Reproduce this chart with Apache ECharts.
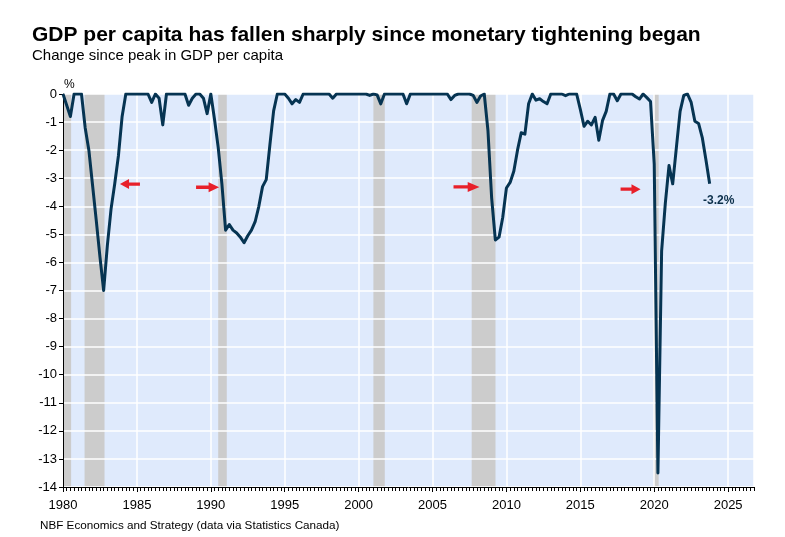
<!DOCTYPE html>
<html>
<head>
<meta charset="utf-8">
<script src="https://cdn.jsdelivr.net/npm/echarts@6/dist/echarts.min.js"></script>
<style>
html,body{margin:0;padding:0;background:#fff;}
#c{width:785px;height:537px;}
</style>
</head>
<body>
<div id="c"></div>
<script>
// ---- Data (quarterly, % change since previous peak in real GDP per capita) ----
const startYear = 1980;          // first quarter = 1980Q1
const v1980s = [0, -0.4, -0.8, 0,   0, 0, -1.2, -2.0,   -3.25, -4.5, -5.8, -7.0,   -5.4, -4.1, -3.2, -2.2,
                -0.8, 0, 0, 0,      0, 0, 0, 0,          -0.3, 0, -0.15, -1.1,      0, 0, 0, 0,
                0, 0, -0.4, -0.15,  0, 0, -0.15, -0.7];
const v1990s = [0, -0.9, -1.9, -3.2,   -4.85, -4.65, -4.85, -4.95,   -5.1, -5.3, -5.05, -4.85,   -4.55, -4.0, -3.3, -3.05,
                -1.8, -0.6, 0, 0,      0, -0.15, -0.35, -0.2,        -0.3, 0, 0, 0,               0, 0, 0, 0,
                0, -0.15, 0, 0,        0, 0, 0, 0];
const v2000s = [0, 0, 0, -0.05,   0, -0.03, -0.35, 0,   0, 0, 0, 0,   0, -0.35, 0, 0,
                0, 0, 0, 0,       0, 0, 0, 0,           0, -0.2, -0.05, 0,   0, 0, 0, -0.05,
                -0.3, -0.07, 0, -1.3,   -3.7, -5.2, -5.1, -4.4];
const v2010s = [-3.35, -3.15, -2.75, -2.0,   -1.38, -1.43, -0.35, 0,   -0.22, -0.17, -0.27, -0.35,   0, 0, 0, 0,
                -0.06, 0, 0, 0,              -0.55, -1.15, -0.97, -1.1, -0.83, -1.65, -0.95, -0.62,  0, 0, -0.24, 0,
                0, 0, 0, -0.1,               -0.18, 0, -0.13, -0.27];
const v2020s = [-2.5, -13.5, -5.6, -3.9,   -2.55, -3.2, -1.9, -0.62,   -0.05, 0, -0.3, -0.97,   -1.05, -1.55, -2.35, -3.2];

// Recessions (shaded), in decimal years
const recessionStarts = [1980.0, 1981.46, 1990.5, 2001.0, 2007.65, 2019.96];
const recessionEnds   = [1980.55, 1982.81, 1991.08, 2001.77, 2009.26, 2020.3];

// Red arrows marking start of monetary tightening-related declines: [year, value, direction]
const arrowYears  = [1984.53, 1989.78, 2007.3, 2018.4];
const arrowValues = [-3.21, -3.32, -3.31, -3.39];
const arrowDirs   = ['left', 'right', 'right', 'right'];

// Axis settings
const xMin = 1980, xMax = 2026.75, xStep = 5;
const yMin = -14, yMax = 0, yStep = 1;

// ---- Build ----
const values = [].concat(v1980s, v1990s, v2000s, v2010s, v2020s);
const lineData = values.map((v, i) => [startYear + i / 4, v]);
const last = lineData[lineData.length - 1];

const arrowLen = [20, 23, 26, 20];
const arrowPath = 'path://M0,3.3 L12,3.3 L12,0 L22,5 L12,10 L12,6.7 L0,6.7 Z';

const FONT = '"Liberation Sans", Arial, Helvetica, sans-serif';
const chart = echarts.init(document.getElementById('c'), null, {renderer: 'canvas'});

const option = {
  animation: false,
  textStyle: {fontFamily: FONT},
  title: [
    {text: 'GDP per capita has fallen sharply since monetary tightening began', left: 27, top: 20,
     textStyle: {fontFamily: FONT, fontSize: 21, fontWeight: 'bold', color: '#000'}},
    {text: 'Change since peak in GDP per capita', left: 27, top: 43,
     textStyle: {fontFamily: FONT, fontSize: 15, fontWeight: 'normal', color: '#000'}},
    {text: 'NBF Economics and Strategy (data via Statistics Canada)', left: 35, top: 515,
     textStyle: {fontFamily: FONT, fontSize: 11.7, fontWeight: 'normal', color: '#000'}}
  ],
  grid: {left: 63, top: 94, right: 31, bottom: 50, show: true, backgroundColor: '#dfeafc', borderWidth: 0, z: 0},
  xAxis: [
    {type: 'value', position: 'bottom', min: xMin, max: xMax, interval: xStep, z: 2,
     axisLine: {show: true, onZero: false, lineStyle: {color: '#000', width: 1}},
     axisTick: {show: true, length: 5, lineStyle: {color: '#000'}},
     axisLabel: {fontFamily: FONT, fontSize: 13, color: '#000', margin: 12, showMaxLabel: false,
                 formatter: v => (Math.abs(v % 5) < 1e-6 ? String(Math.round(v)) : '')},
     splitLine: {show: true, lineStyle: {color: '#fff', width: 1.5}}},
    {type: 'value', position: 'bottom', min: xMin, max: xMax, interval: 0.25, z: 2,
     axisLine: {show: false, onZero: false},
     axisTick: {show: true, length: 4, lineStyle: {color: '#000'}},
     axisLabel: {show: false},
     splitLine: {show: false}}
  ],
  yAxis: {
    type: 'value', min: yMin, max: yMax, interval: yStep, z: 2,
    name: '%', nameLocation: 'end', nameGap: 3,
    nameTextStyle: {fontFamily: FONT, fontSize: 12, color: '#000', align: 'left', padding: [0, 0, 0, 1]},
    axisLine: {show: true, lineStyle: {color: '#000', width: 1}},
    axisTick: {show: true, length: 4, lineStyle: {color: '#000'}},
    axisLabel: {fontFamily: FONT, fontSize: 13, color: '#000', margin: 6},
    splitLine: {show: true, lineStyle: {color: '#fff', width: 1.5}}
  },
  series: [
    {
      type: 'line', data: [], z: 1, silent: true, xAxisIndex: 0,
      markArea: {
        silent: true,
        itemStyle: {color: '#cccccc'},
        data: recessionStarts.map((s, i) => [{xAxis: s}, {xAxis: recessionEnds[i]}])
      }
    },
    {
      type: 'line', data: lineData, z: 3, xAxisIndex: 0,
      symbol: 'none', smooth: false,
      lineStyle: {color: '#063452', width: 3, join: 'round'},
      markPoint: {
        silent: true,
        animation: false,
        data: arrowYears.map((x, i) => ({
          coord: [x, arrowValues[i]],
          symbol: arrowPath,
          symbolSize: [arrowLen[i], 10],
          symbolKeepAspect: false,
          symbolRotate: arrowDirs[i] === 'left' ? 180 : 0,
          itemStyle: {color: '#e8202a'},
          label: {show: false}
        })).concat([{
          coord: last,
          symbol: 'rect', symbolSize: 1,
          itemStyle: {color: 'rgba(0,0,0,0)'},
          label: {show: true, position: 'bottom', distance: 10, offset: [9, 0],
                  formatter: last[1].toFixed(1) + '%',
                  fontFamily: FONT, fontSize: 12, fontWeight: 'bold', color: '#0b2f4a'}
        }])
      }
    }
  ]
};
chart.setOption(option);
</script>
</body>
</html>
